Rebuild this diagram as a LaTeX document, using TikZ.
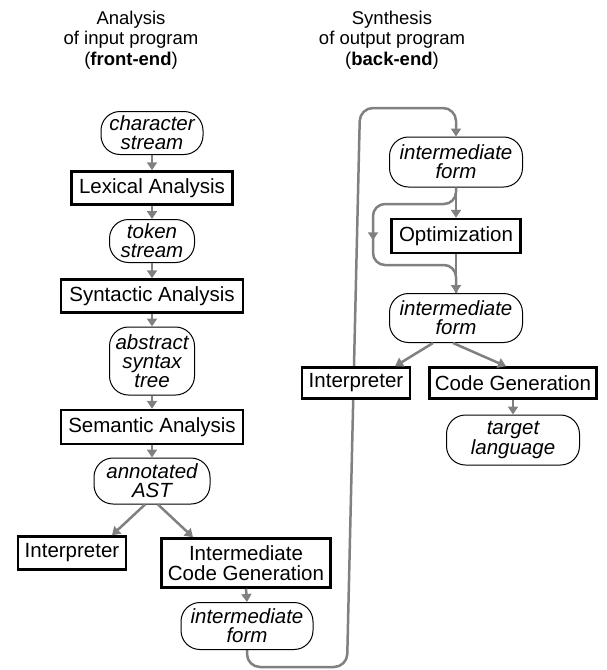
\documentclass[tikz,border=0pt]{standalone}
\usepackage{fontspec}
\setmainfont{Liberation Sans}
\usetikzlibrary{arrows.meta,decorations.markings,backgrounds}
\definecolor{arrgray}{RGB}{128,128,128}
\begin{document}
\begin{tikzpicture}[x=1pt,y=-1pt,
  every node/.style={font=\fontsize{20.5}{19}\selectfont, align=center, inner sep=0pt},
  data/.style={draw, fill=white, line width=1pt, rounded corners=19pt, font=\fontsize{20.5}{19}\selectfont\itshape},
  proc/.style={draw, fill=white, line width=2.5pt},
  flow/.style={draw=arrgray, line width=2.5pt, -{Triangle[length=8pt,width=10pt]}},
  loopline/.style={draw=arrgray, color=arrgray, line width=2.5pt, rounded corners=13pt},
  titletext/.style={font=\fontsize{18.5}{20.5}\selectfont}]
\useasboundingbox (0,0) rectangle (606,670);
% titles
\node[titletext] (t1) at (131,40) {Analysis\\of input program\\(\textbf{front-end})};
\node[titletext] (t2) at (392,40) {Synthesis\\of output program\\(\textbf{back-end})};
% front-end
\node[data, minimum width=102pt, minimum height=43pt] (cs) at (152,133) {character\\stream};
\node[proc, minimum width=161pt, minimum height=33pt] (lex) at (152,188) {Lexical Analysis};
\node[data, minimum width=85pt, minimum height=43pt] (ts) at (152,241) {token\\stream};
\node[proc, minimum width=182pt, minimum height=33pt] (syn) at (152,296) {Syntactic Analysis};
\node[data, minimum width=85pt, minimum height=68pt] (ast) at (152,361) {abstract\\syntax\\tree};
\node[proc, minimum width=182pt, minimum height=34pt] (sem) at (152,427) {Semantic Analysis};
\node[data, minimum width=116pt, minimum height=46pt] (aast) at (152,481) {annotated\\AST};
\node[proc, minimum width=108pt, minimum height=33pt] (intl) at (72,553) {Interpreter};
\node[proc, minimum width=169pt, minimum height=49pt, font=\fontsize{20.5}{20}\selectfont] (icg) at (246,563) {Intermediate\\Code Generation};
\node[data, minimum width=132pt, minimum height=47pt] (ifl) at (247,626) {intermediate\\form};
% back-end
\node[data, minimum width=133pt, minimum height=50pt] (ift) at (456,162) {intermediate\\form};
\node[proc, minimum width=129pt, minimum height=34pt] (opt) at (456,236) {Optimization};
\node[data, minimum width=133pt, minimum height=49pt] (imf) at (456,318) {intermediate\\form};
\node[proc, minimum width=108pt, minimum height=31pt] (intr) at (356,383) {Interpreter};
\node[proc, minimum width=167pt, minimum height=31pt] (cg) at (513,383) {Code Generation};
\node[data, minimum width=133pt, minimum height=50pt] (tl) at (513,440) {target\\language};
% front-end arrows
\draw[flow] (cs.south) -- (lex.north);
\draw[flow] (lex.south) -- (ts.north);
\draw[flow] (ts.south) -- (syn.north);
\draw[flow] (syn.south) -- (ast.north);
\draw[flow] (ast.south) -- (sem.north);
\draw[flow] (sem.south) -- (aast.north);
\draw[flow] ([xshift=-7pt]aast.south) -- ([xshift=40pt]intl.north);
\draw[flow] ([xshift=6pt]aast.south) -- ([xshift=-53pt]icg.north);
\draw[flow] (icg.south) -- (ifl.north);
% back-end arrows
\draw[flow] (ift.south) -- (opt.north);
\draw[flow] (opt.south) -- (imf.north);
\draw[flow] ([xshift=-23pt]imf.south) -- ([xshift=39pt]intr.north);
\draw[flow] ([xshift=-3pt]imf.south) -- ([xshift=-7pt]cg.north);
\draw[flow] (cg.south) -- (tl.north);
% long connector from front-end to back-end (behind the nodes)
\coordinate (l1) at (247,667);
\coordinate (l2) at (347,667);
\coordinate (l3) at (360,108);
\coordinate (l4) at (456,108);
\begin{pgfonlayer}{background}
\draw[loopline, -{Triangle[length=8pt,width=10pt]}] (ifl.south) -- (l1) -- (l2) -- (l3) -- (l4) -- (ift.north);
\end{pgfonlayer}
% bypass of optimization
\coordinate (b1) at (456,204);
\coordinate (b2) at (373,204);
\coordinate (b3) at (373,265);
\coordinate (b4) at (456,265);
\draw[loopline, rounded corners=12pt,
  postaction={decorate, decoration={markings, mark=at position 0.5 with {\arrow{Triangle[length=8pt,width=10pt]}}}}]
  (ift.south) -- (b1) -- (b2) -- (b3) -- (b4) -- (imf.north);
\end{tikzpicture}
\end{document}
